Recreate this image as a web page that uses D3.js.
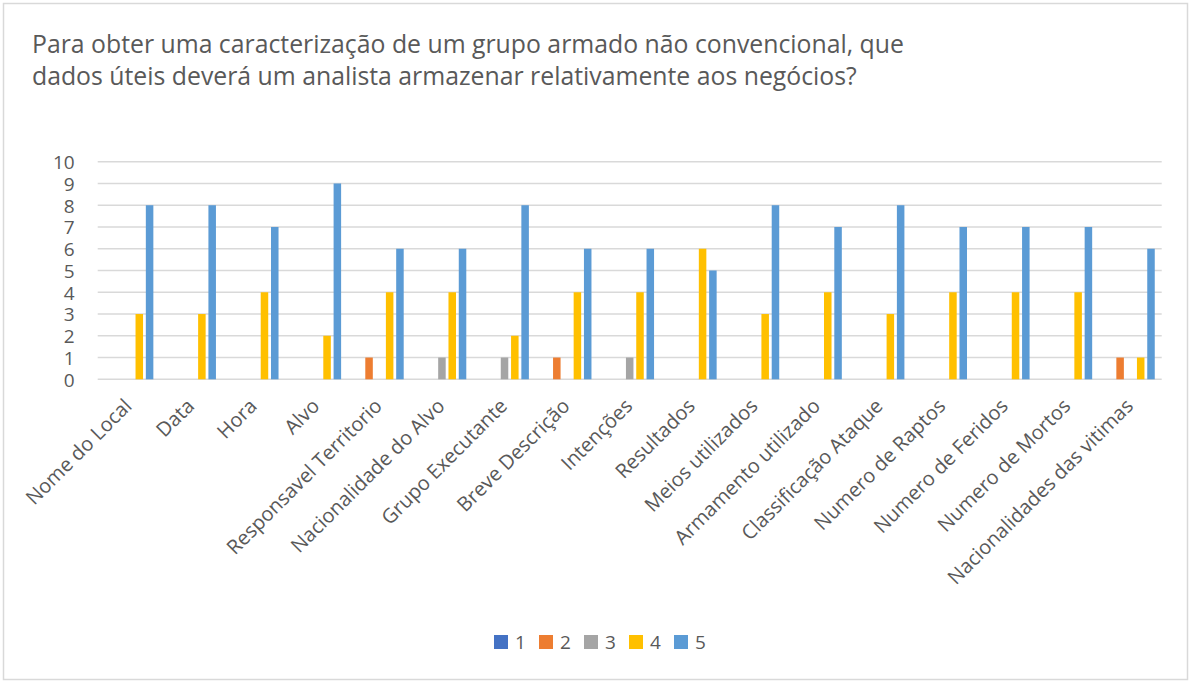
<!DOCTYPE html>
<html>
<head>
<meta charset="utf-8">
<script src="https://cdnjs.cloudflare.com/ajax/libs/d3/7.8.5/d3.min.js"></script>
<style>
  body{margin:0;background:#fff;}
  svg text{font-family:"Open Sans",Lato,sans-serif;fill:#595959;}
</style>
</head>
<body>
<svg id="chart" width="1192" height="686"></svg>
<script>
// categories and series values
var categories=["Nome do Local","Data","Hora","Alvo","Responsavel Territorio","Nacionalidade do Alvo",
  "Grupo Executante","Breve Descrição","Intenções","Resultados","Meios utilizados","Armamento utilizado",
  "Classificação Ataque","Numero de Raptos","Numero de Feridos","Numero de Mortos","Nacionalidades das vitimas"];
var seriesNames=["1","2","3","4","5"];
var s1=[0,0,0,0,0,0,0,0,0,0,0,0,0,0,0,0,0];
var s2=[0,0,0,0,1,0,0,1,0,0,0,0,0,0,0,0,1];
var s3=[0,0,0,0,0,1,1,0,1,0,0,0,0,0,0,0,0];
var s4=[3,3,4,2,4,4,2,4,4,6,3,4,3,4,4,4,1];
var s5=[8,8,7,9,6,6,8,6,6,5,8,7,8,7,7,7,6];
var colors=["#4472C4","#ED7D31","#A5A5A5","#FFC000","#5B9BD5"];
var yTicks=[0,1,2,3,4,5,6,7,8,9,10];
var title=["Para obter uma caracterização de um grupo armado não convencional, que",
  "dados úteis deverá um analista armazenar relativamente aos negócios?"];

var svg=d3.select("#chart");
var allSeries=[s1,s2,s3,s4,s5];

// chart border
svg.append("rect").attr("x",3.5).attr("y",3.5).attr("width",1184).attr("height",676)
  .attr("fill","#fff").attr("stroke","#d9d9d9").attr("stroke-width",1.5);

// title
svg.append("g").selectAll("text").data(title).enter().append("text")
  .attr("x",32).attr("y",function(d,i){return 53+i*31.5;})
  .attr("font-size","24.8px")
  .text(function(d){return d;});

// plot area
var plotLeft=97.7,plotRight=1161.7,plotTop=161.7,plotBottom=379.3;
var x0=d3.scaleBand().domain(categories).range([plotLeft,plotRight]).padding(0);
var x1=d3.scaleBand().domain(seriesNames).range([0,x0.bandwidth()]).paddingInner(0.27).paddingOuter(0.674);
var y=d3.scaleLinear().domain([0,10]).range([plotBottom,plotTop]);

// gridlines
svg.append("g").selectAll("line").data(yTicks).enter().append("line")
  .attr("x1",plotLeft).attr("x2",plotRight)
  .attr("y1",function(d){return y(d);}).attr("y2",function(d){return y(d);})
  .attr("stroke","#d9d9d9").attr("stroke-width",1.5);

// y axis labels
var yAxis=svg.append("g").attr("transform","translate("+(plotLeft-23)+",0)")
  .call(d3.axisLeft(y).tickValues(yTicks).tickSize(0).tickPadding(0));
yAxis.select(".domain").remove();
yAxis.selectAll("text").attr("font-size","19px").attr("dy","0.36em")
  .style("font-family","'Open Sans',sans-serif").attr("fill","#595959");

// bars
var groups=svg.append("g").selectAll("g").data(categories).enter().append("g")
  .attr("transform",function(d){return "translate("+x0(d)+",0)";});
groups.selectAll("rect").data(function(d,i){
    return seriesNames.map(function(s,k){return {key:s,value:allSeries[k][i],k:k};});
  }).enter().append("rect")
  .attr("x",function(d){return x1(d.key);})
  .attr("width",x1.bandwidth())
  .attr("y",function(d){return y(d.value);})
  .attr("height",function(d){return plotBottom-y(d.value);})
  .attr("fill",function(d){return colors[d.k];});

// x axis labels
var xAxis=svg.append("g").attr("transform","translate(0,"+plotBottom+")")
  .call(d3.axisBottom(x0).tickSize(0).tickPadding(0));
xAxis.select(".domain").remove();
xAxis.selectAll("text")
  .attr("font-size","20px")
  .style("font-family","'Open Sans',sans-serif").attr("fill","#595959")
  .attr("text-anchor","end")
  .attr("dy",null).attr("y",null)
  .attr("transform","translate(4,28) rotate(-45)");

// legend
var legend=svg.append("g").selectAll("g").data(seriesNames).enter().append("g")
  .attr("transform",function(d,i){return "translate("+(494+i*45)+",635)";});
legend.append("rect").attr("width",14).attr("height",14)
  .attr("fill",function(d,i){return colors[i];});
legend.append("text").attr("x",21).attr("y",13.5).attr("font-size","19px")
  .text(function(d){return d;});
</script>
</body>
</html>
